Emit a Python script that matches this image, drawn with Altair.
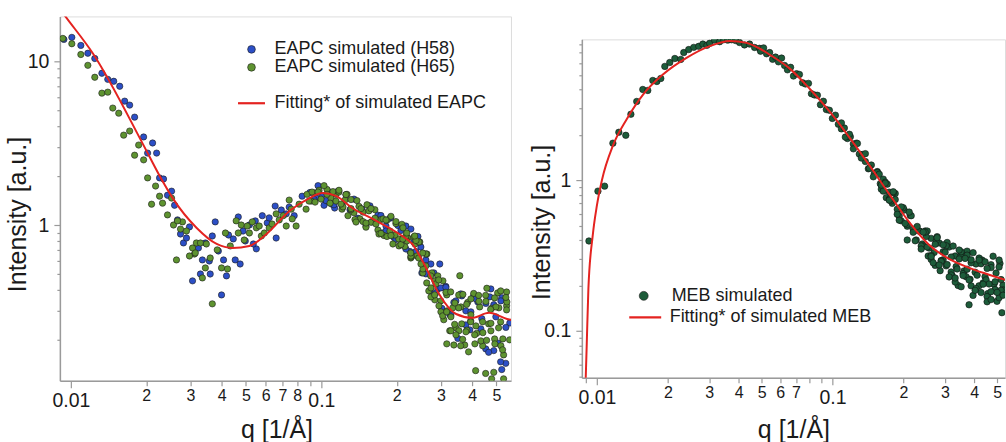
import json
import altair as alt
import pandas as pd

FONT = "Liberation Sans"
INK = "#1a1a1a"
AXIS = "#9a9a9a"

# ---------------- EAPC panel (left) ----------------
eapc_series = ["EAPC simulated (H58)", "EAPC simulated (H65)"]
eapc_fit_label = "Fitting* of simulated EAPC"
eapc_colors = ["#2c4fc6", "#5e9330"]

h58_low = [(0.00938, 13.6), (0.01009, 14.0), (0.01096, 12.5), (0.01169, 11.2), (0.01246, 10.4), (0.0133, 8.45),
           (0.01404, 7.76), (0.01483, 7.55), (0.01567, 7.04), (0.0164, 5.71), (0.01717, 5.40), (0.01797, 4.56),
           (0.01952, 3.45), (0.0212, 3.17), (0.02025, 2.75), (0.022, 2.75), (0.0226, 1.94), (0.02344, 1.91),
           (0.02431, 1.52), (0.02524, 1.61), (0.02594, 1.32), (0.02665, 1.075), (0.02975, 0.974), (0.0274, 0.881),
           (0.02815, 0.777), (0.02894, 0.833), (0.0323, 0.724), (0.03443, 0.777), (0.0335, 0.612), (0.0357, 0.603),
           (0.0377, 1.045), (0.0367, 0.857), (0.0388, 0.694), (0.0407, 0.612), (0.0418, 0.489), (0.0306, 0.456),
           (0.0329, 0.502), (0.0360, 0.502), (0.03995, 0.374), (0.0426, 0.869), (0.0445, 0.822), (0.0453, 0.612),
           (0.0474, 0.578), (0.0466, 1.12), (0.0487, 0.919), (0.0497, 0.799), (0.0516, 1.0), (0.0545, 1.06),
           (0.0550, 0.715), (0.0535, 0.766), (0.0581, 1.14), (0.0608, 1.03), (0.0619, 1.106), (0.0654, 1.306),
           (0.066, 0.833), (0.0692, 1.235), (0.0724, 1.17), (0.0744, 1.287), (0.0779, 1.14), (0.0838, 1.50),
           (0.0952, 1.46), (0.1025, 1.32), (0.1103, 1.34), (0.113, 1.27)]
h58_high = [(0.0901, 1.58), (0.0935, 1.43), (0.0970, 1.74), (0.1006, 1.52), (0.1044, 1.41), (0.1083, 1.59),
            (0.1123, 1.33), (0.1165, 1.61), (0.1209, 1.32), (0.1254, 1.53), (0.1301, 1.24), (0.1350, 1.44),
            (0.1400, 1.10), (0.1453, 1.25), (0.1507, 0.986), (0.1563, 1.31), (0.1622, 1.045), (0.1682, 1.15),
            (0.1745, 0.894), (0.1811, 0.986), (0.1878, 1.10), (0.1948, 0.839), (0.2021, 0.993), (0.2097, 0.81),
            (0.2175, 0.986), (0.2257, 0.689), (0.2341, 0.788), (0.2429, 0.851), (0.2519, 0.51), (0.2614, 0.612),
            (0.2711, 0.396), (0.2813, 0.51), (0.2918, 0.407), (0.3027, 0.310), (0.3140, 0.422), (0.3258, 0.283),
            (0.3380, 0.337), (0.3506, 0.203), (0.3637, 0.369), (0.3773, 0.299), (0.3914, 0.229), (0.4061, 0.372),
            (0.4213, 0.339), (0.4370, 0.268), (0.4534, 0.175), (0.4703, 0.364), (0.4879, 0.326), (0.5062, 0.190),
            (0.5251, 0.360), (0.5448, 0.143), (0.5651, 0.252),
            (0.5196, 0.146), (0.525, 0.131), (0.2970, 0.578), (0.4879, 0.171), (0.4655, 0.167)]
h58_high_b = [(0.1729, 1.143), (0.1810, 0.919), (0.1895, 1.111), (0.1984, 0.816), (0.2078, 0.926), (0.2175, 0.714),
              (0.2278, 0.945), (0.2385, 0.689), (0.2497, 0.734), (0.2614, 0.503), (0.2737, 0.578), (0.2866, 0.385),
              (0.3000, 0.413), (0.3141, 0.416), (0.3289, 0.2826), (0.3444, 0.344), (0.3606, 0.3796), (0.3775, 0.2455),
              (0.3953, 0.295), (0.4138, 0.354), (0.4333, 0.2322), (0.4537, 0.332), (0.4750, 0.407), (0.4973, 0.275),
              (0.5207, 0.344), (0.5452, 0.237)]

h65_low = [(0.00929, 13.8), (0.01009, 12.8), (0.01096, 11.0), (0.01169, 9.45), (0.01246, 7.99), (0.0133, 6.39),
           (0.01404, 6.48), (0.0147, 5.18), (0.01553, 4.82), (0.01625, 3.54), (0.01717, 3.75), (0.01797, 2.67),
           (0.01865, 3.08), (0.01952, 2.50), (0.02025, 1.94), (0.02179, 1.73), (0.0226, 1.50), (0.0210, 1.34),
           (0.02323, 1.36), (0.02431, 1.153), (0.02524, 1.46), (0.02569, 1.0), (0.0279, 1.045), (0.0274, 0.945),
           (0.02894, 0.919), (0.02665, 1.06), (0.0306, 0.724), (0.0317, 0.777), (0.03115, 0.665), (0.0329, 0.777),
           (0.03475, 0.766), (0.0264, 0.612), (0.02975, 0.647), (0.0314, 0.675), (0.03443, 0.547), (0.0360, 0.629),
           (0.0384, 0.705), (0.03995, 0.547), (0.0422, 0.539), (0.0335, 0.475), (0.0367, 0.330), (0.0414, 0.894),
           (0.0433, 0.745), (0.0457, 1.06), (0.0466, 0.894), (0.0479, 1.0), (0.0492, 0.81), (0.0506, 0.986),
           (0.0516, 0.894), (0.0530, 1.045), (0.0550, 0.961), (0.0565, 0.986), (0.0576, 0.857), (0.0592, 0.894),
           (0.0619, 0.961), (0.0636, 1.014), (0.066, 1.17), (0.0679, 1.075), (0.0704, 1.14), (0.0724, 0.986),
           (0.0758, 1.25), (0.0765, 1.09), (0.0793, 0.986), (0.0744, 1.42), (0.0815, 1.34), (0.0869, 1.25),
           (0.091, 1.40), (0.0935, 1.57), (0.0979, 1.63), (0.1053, 1.65), (0.1093, 1.46), (0.1144, 1.54),
           (0.0877, 1.54)]
h65_high_a = [(0.0893, 1.40), (0.0918, 1.59), (0.0944, 1.38), (0.0970, 1.59), (0.0997, 1.44), (0.1025, 1.74),
              (0.1053, 1.54), (0.1083, 1.36), (0.1113, 1.60), (0.1144, 1.40), (0.1176, 1.59), (0.1209, 1.25),
              (0.1242, 1.42), (0.1277, 1.14), (0.1313, 1.43), (0.1349, 1.19), (0.1387, 1.41), (0.1426, 1.09),
              (0.1466, 1.20), (0.1507, 0.97), (0.1548, 1.22), (0.1592, 1.045), (0.1636, 1.24), (0.1682, 0.932),
              (0.1729, 1.08), (0.1777, 0.863), (0.1827, 1.07), (0.1878, 0.919), (0.1930, 0.766), (0.1984, 1.02),
              (0.2037, 0.822), (0.2096, 1.01), (0.2154, 0.74), (0.2214, 0.833), (0.2276, 0.629), (0.2340, 0.845),
              (0.2405, 0.647), (0.2472, 0.788), (0.2541, 0.51), (0.2612, 0.562), (0.2685, 0.396), (0.2760, 0.51),
              (0.2837, 0.349), (0.2916, 0.489), (0.2997, 0.344), (0.3081, 0.264), (0.3167, 0.374), (0.3255, 0.226),
              (0.3346, 0.312), (0.3439, 0.236), (0.3535, 0.374), (0.3634, 0.249), (0.3735, 0.185), (0.3839, 0.337),
              (0.3946, 0.260), (0.4056, 0.382), (0.4169, 0.218), (0.4286, 0.316), (0.4405, 0.183), (0.4528, 0.372),
              (0.4655, 0.249), (0.4784, 0.310), (0.4918, 0.2015), (0.5055, 0.385), (0.5196, 0.256), (0.5341, 0.161),
              (0.5490, 0.321), (0.5643, 0.199)]
h65_high_b = [(0.1176, 1.63), (0.1220, 1.29), (0.1266, 1.54), (0.1313, 1.24), (0.1362, 1.08), (0.1413, 1.30),
              (0.1466, 1.05), (0.1521, 1.33), (0.1578, 1.04), (0.1637, 1.10), (0.1698, 0.881), (0.1762, 1.09),
              (0.1828, 0.851), (0.1896, 1.13), (0.1967, 0.869), (0.2041, 0.745), (0.2117, 0.961), (0.2196, 0.799),
              (0.2279, 0.638), (0.2364, 0.766), (0.2452, 0.788), (0.2544, 0.539), (0.2639, 0.665), (0.2738, 0.364),
              (0.2840, 0.456), (0.2947, 0.321), (0.3057, 0.456), (0.3171, 0.299), (0.3290, 0.226), (0.3413, 0.334),
              (0.3540, 0.226), (0.3673, 0.377), (0.3810, 0.228), (0.3953, 0.283), (0.4101, 0.188), (0.4254, 0.342),
              (0.4413, 0.220), (0.4578, 0.411), (0.4750, 0.251), (0.4927, 0.188), (0.5112, 0.312), (0.5303, 0.2015),
              (0.5501, 0.339),
              (0.3380, 0.185), (0.3600, 0.183), (0.413, 0.129), (0.4528, 0.124), (0.4784, 0.115), (0.534, 0.115),
              (0.4879, 0.126), (0.357, 0.49), (0.3167, 0.188), (0.387, 0.168), (0.549, 0.39), (0.52, 0.396)]
h65_high_c = [(0.1198, 1.343), (0.1254, 1.535), (0.1313, 1.26), (0.1375, 1.043), (0.1440, 1.26), (0.1507, 1.028),
              (0.1578, 1.26), (0.1652, 1.014), (0.1730, 0.888), (0.1811, 1.073), (0.1896, 0.863), (0.1985, 1.05),
              (0.2079, 0.760), (0.2176, 0.857), (0.2279, 0.647), (0.2386, 0.804), (0.2498, 0.578), (0.2615, 0.666),
              (0.2738, 0.413), (0.2867, 0.437), (0.3001, 0.295), (0.3142, 0.388), (0.3290, 0.275), (0.3445, 0.2135),
              (0.3607, 0.316), (0.3776, 0.2227), (0.3954, 0.354), (0.4139, 0.242), (0.4334, 0.196), (0.4537, 0.3416),
              (0.4751, 0.2258), (0.4974, 0.316), (0.5208, 0.183), (0.5452, 0.3613)]
h65_high_d = [(0.2113, 0.821), (0.2192, 0.894), (0.2274, 0.675), (0.2359, 0.857), (0.2447, 0.629), (0.2539, 0.675),
              (0.2634, 0.443), (0.2732, 0.489), (0.2834, 0.3743), (0.2940, 0.462), (0.3050, 0.2787), (0.3164, 0.2948),
              (0.3283, 0.3904), (0.3405, 0.2473), (0.3533, 0.3118), (0.3665, 0.2003), (0.3802, 0.3275), (0.3944, 0.2562),
              (0.4092, 0.2135), (0.4245, 0.3717), (0.4403, 0.2562), (0.4568, 0.1976), (0.4739, 0.3053), (0.4916, 0.3587),
              (0.5100, 0.2355), (0.5291, 0.1729), (0.5489, 0.3031)]

eapc_fit = [(0.0088, 22.1), (0.00951, 18.8), (0.01223, 11.2), (0.0194, 3.12), (0.0226, 2.0), (0.0255, 1.46),
            (0.0318, 0.959), (0.0382, 0.766), (0.0442, 0.724), (0.0516, 0.745), (0.0604, 0.881), (0.0746, 1.217),
            (0.0896, 1.46), (0.1009, 1.57), (0.1148, 1.50), (0.133, 1.27), (0.1657, 1.06), (0.2046, 0.881),
            (0.2306, 0.766), (0.262, 0.547), (0.295, 0.379), (0.345, 0.286), (0.400, 0.271), (0.467, 0.291),
            (0.551, 0.267), (0.58, 0.262)]

# ---------------- MEB panel (right) ----------------
meb_label = "MEB simulated"
meb_fit_label = "Fitting* of simulated MEB"
meb_color = "#1d5c3a"

meb_low = [(0.00925, 0.395), (0.0101, 0.846), (0.01078, 0.913), (0.01169, 1.76), (0.01239, 2.08), (0.01326, 1.985),
           (0.01394, 2.74), (0.01476, 3.33), (0.01566, 4.0), (0.01644, 3.94), (0.01727, 4.59), (0.01796, 4.52),
           (0.01867, 4.73), (0.01942, 5.69), (0.02038, 6.04), (0.02142, 6.42), (0.02269, 6.33), (0.02337, 7.03),
           (0.02453, 7.36), (0.02577, 7.61), (0.02706, 7.73), (0.02816, 8.0), (0.0293, 7.85), (0.03011, 8.1),
           (0.0316, 8.5), (0.03319, 8.3), (0.0345, 8.55), (0.0359, 8.5), (0.0373, 8.55), (0.0388, 8.45),
           (0.0403, 8.2), (0.0423, 7.9), (0.04447, 8.0), (0.0467, 7.6), (0.0490, 7.5)]
meb_mid = [(0.0495, 7.18), (0.0510, 7.55), (0.0525, 6.90), (0.0541, 7.03), (0.0557, 6.34), (0.0573, 6.56),
           (0.0590, 6.10), (0.0608, 6.46), (0.0626, 5.77), (0.0644, 5.40), (0.0664, 5.61), (0.0683, 4.91),
           (0.0704, 5.09), (0.0724, 5.03), (0.0746, 4.43), (0.0768, 4.35), (0.0791, 4.39), (0.0814, 3.75),
           (0.0838, 3.68), (0.0863, 3.66), (0.0889, 3.17), (0.0915, 3.34), (0.0942, 2.94), (0.0970, 2.91),
           (0.0999, 2.57), (0.1029, 2.70), (0.1059, 2.35), (0.1091, 2.19), (0.1123, 2.22), (0.1157, 1.89),
           (0.1191, 1.94), (0.1226, 1.74), (0.1263, 1.76), (0.1300, 1.49), (0.1339, 1.48), (0.1379, 1.33),
           (0.1420, 1.19), (0.1462, 1.26), (0.1505, 1.11), (0.1550, 1.14), (0.1596, 0.948), (0.1643, 1.016),
           (0.1692, 0.766), (0.1742, 0.833), (0.1794, 0.702), (0.1847, 0.816), (0.1902, 0.637), (0.1959, 0.537),
           (0.2017, 0.633), (0.2077, 0.495), (0.2138, 0.584), (0.2202, 0.473), (0.2267, 0.401), (0.2334, 0.46),
           (0.2404, 0.377), (0.2475, 0.46), (0.2548, 0.314), (0.2624, 0.411), (0.2702, 0.331), (0.2782, 0.422),
           (0.2864, 0.251), (0.2949, 0.335), (0.3037, 0.27), (0.3127, 0.36), (0.3220, 0.233), (0.3315, 0.314),
           (0.3414, 0.20), (0.3515, 0.32), (0.3619, 0.25), (0.3727, 0.338), (0.3837, 0.22), (0.3951, 0.172),
           (0.4068, 0.278), (0.4189, 0.199), (0.4314, 0.295), (0.4442, 0.229), (0.4573, 0.177), (0.4709, 0.275),
           (0.4849, 0.204), (0.4993, 0.157), (0.5141, 0.28), (0.5294, 0.201)]
meb_band = [(0.1091, 2.40), (0.1134, 1.932), (0.1180, 2.017), (0.1227, 1.614), (0.1276, 1.753), (0.1326, 1.403),
            (0.1379, 1.50), (0.1434, 1.20), (0.1491, 1.053), (0.1550, 1.126), (0.1612, 0.872), (0.1676, 0.970),
            (0.1743, 0.749), (0.1812, 0.825), (0.1884, 0.641)]
meb_high = [(0.1580, 1.095), (0.1643, 0.846), (0.1708, 0.941), (0.1776, 0.728), (0.1847, 0.744), (0.1920, 0.578),
            (0.1997, 0.657), (0.2076, 0.509), (0.2159, 0.581), (0.2245, 0.396), (0.2334, 0.46), (0.2427, 0.366),
            (0.2524, 0.46), (0.2624, 0.317), (0.2729, 0.272), (0.2837, 0.383), (0.2950, 0.296), (0.3068, 0.386),
            (0.3190, 0.246), (0.3317, 0.211), (0.3449, 0.30), (0.3586, 0.24), (0.3729, 0.318), (0.3877, 0.199),
            (0.4032, 0.245), (0.4192, 0.304), (0.4359, 0.208), (0.4533, 0.169), (0.4713, 0.263), (0.4901, 0.188),
            (0.5096, 0.295), (0.5299, 0.187),
            (0.2380, 0.366), (0.2499, 0.423), (0.2624, 0.298), (0.2755, 0.395), (0.2893, 0.293), (0.3038, 0.367),
            (0.3189, 0.235), (0.3349, 0.267), (0.3516, 0.335), (0.3692, 0.229), (0.3877, 0.283), (0.4071, 0.191),
            (0.4274, 0.279), (0.4488, 0.218), (0.4712, 0.182), (0.4948, 0.242), (0.5195, 0.186),
            (0.38, 0.149), (0.4533, 0.156), (0.524, 0.132), (0.5096, 0.166), (0.2076, 0.401), (0.192, 0.543)]
meb_high_b = [(0.1611, 0.927), (0.1675, 0.955), (0.1742, 0.737), (0.1811, 0.838), (0.1883, 0.594), (0.1958, 0.665),
              (0.2036, 0.516), (0.2117, 0.614), (0.2201, 0.451), (0.2289, 0.493), (0.2380, 0.349), (0.2475, 0.452),
              (0.2573, 0.3545), (0.2676, 0.283), (0.2782, 0.4155), (0.2893, 0.289), (0.3008, 0.3325), (0.3128, 0.228),
              (0.3253, 0.3655), (0.3382, 0.2574), (0.3517, 0.1962), (0.3657, 0.3026), (0.3802, 0.2176), (0.3954, 0.3305),
              (0.4111, 0.2342), (0.4275, 0.1796), (0.4445, 0.2872), (0.4622, 0.2047), (0.4806, 0.313), (0.4998, 0.180),
              (0.5196, 0.219)]
meb_high_c = [(0.2427, 0.452), (0.2524, 0.36), (0.2624, 0.312), (0.2729, 0.3757), (0.2837, 0.2736), (0.2950, 0.3723),
              (0.3068, 0.2753), (0.3190, 0.309), (0.3317, 0.2244), (0.3449, 0.3439), (0.3586, 0.2327), (0.3729, 0.2566),
              (0.3877, 0.2961), (0.4032, 0.1857), (0.4192, 0.2952), (0.4359, 0.2041), (0.4533, 0.2598), (0.4713, 0.1614),
              (0.4901, 0.2117), (0.5096, 0.2653), (0.5299, 0.1724)]

meb_fit = [(0.00893, 0.040), (0.00905, 0.080), (0.0092, 0.19), (0.0096, 0.43), (0.0100, 0.68), (0.0105, 1.0),
           (0.0117, 1.7), (0.0134, 2.55), (0.0157, 3.7), (0.019, 5.0), (0.0241, 6.5), (0.0301, 7.75), (0.0366, 8.4),
           (0.0432, 8.15), (0.04903, 7.48), (0.05405, 6.82), (0.06569, 5.52), (0.07984, 4.06), (0.0970, 2.87),
           (0.1179, 1.925), (0.1433, 1.258), (0.1742, 0.808), (0.2117, 0.527), (0.2573, 0.372), (0.3127, 0.30),
           (0.38, 0.262), (0.4619, 0.236), (0.54, 0.218), (0.56, 0.214)]

# ---------------- axes tick values / labels ----------------
left_x_ticks = [0.01, 0.02, 0.03, 0.04, 0.05, 0.06, 0.07, 0.08, 0.09, 0.1, 0.2, 0.3, 0.4, 0.5]
left_x_labels = ["0.01", "2", "3", "4", "5", "6", "7", "8", "", "0.1", "2", "3", "4", "5"]
right_x_ticks = [0.009, 0.01, 0.02, 0.03, 0.04, 0.05, 0.06, 0.07, 0.08, 0.09, 0.1, 0.2, 0.3, 0.4, 0.5]
right_x_labels = ["", "0.01", "2", "3", "4", "5", "6", "7", "", "", "0.1", "2", "3", "4", "5"]
x_decades = [0.01, 0.1]

left_y_ticks = [0.2, 0.3, 0.4, 0.5, 0.6, 0.7, 0.8, 0.9, 1, 2, 3, 4, 5, 6, 7, 8, 9, 10]
left_y_labels = ["", "", "", "", "", "", "", "", "1", "", "", "", "", "", "", "", "", "10"]
left_y_decades = [1, 10]
right_y_ticks = [0.05, 0.06, 0.07, 0.08, 0.09, 0.1, 0.2, 0.3, 0.4, 0.5, 0.6, 0.7, 0.8, 0.9, 1, 2, 3, 4, 5, 6, 7, 8]
right_y_labels = ["", "", "", "", "", "0.1", "", "", "", "", "", "", "", "", "1", "", "", "", "", "", "", ""]
right_y_decades = [0.1, 1]


def decade_test(decades):
    return " || ".join(f"datum.value == {d}" for d in decades)


def label_expr(ticks, labels):
    return f"{json.dumps(labels)}[indexof({json.dumps(ticks)}, datum.value)]"


def x_axis(ticks, labels, title_x, title_y):
    t = decade_test(x_decades)
    return alt.Axis(
        values=ticks, labelExpr=label_expr(ticks, labels), labelOverlap=False, labelFlush=False,
        labelFont=FONT, labelColor=INK,
        labelFontSize={"condition": {"test": t, "value": 19.5}, "value": 16},
        labelPadding={"condition": {"test": t, "value": 4}, "value": 2},
        tickSize={"condition": {"test": t, "value": 7}, "value": 5},
        tickColor=AXIS, tickWidth=1.2, domainColor=AXIS, domainWidth=1.5, grid=False,
        title="q [1/Å]", titleFont=FONT, titleFontSize=25, titleFontWeight="normal", titleColor=INK,
        titleX=title_x, titleY=title_y, titleAlign="center", titleBaseline="alphabetic", titleAngle=0,
    )


def y_axis(ticks, labels, decades, title_x, title_y):
    t = decade_test(decades)
    return alt.Axis(
        values=ticks, labelExpr=label_expr(ticks, labels), labelOverlap=False, labelFlush=False,
        labelFont=FONT, labelColor=INK, labelFontSize=19.5, labelPadding=5,
        tickSize={"condition": {"test": t, "value": 6}, "value": 3},
        tickColor=AXIS, tickWidth=1.2, domainColor=AXIS, domainWidth=1.5, grid=False,
        title="Intensity [a.u.]", titleFont=FONT, titleFontSize=25, titleFontWeight="normal", titleColor=INK,
        titleX=title_x, titleY=title_y, titleAlign="center", titleBaseline="middle", titleAngle=270,
    )


def legend(x, y, offset, size, stype, stroke_w, row_pad=-3):
    return alt.Legend(
        title=None, orient="none", legendX=x, legendY=y, padding=0, rowPadding=row_pad,
        labelFont=FONT, labelFontSize=18, labelColor=INK, labelOffset=offset, labelLimit=400,
        symbolType=stype, symbolSize=size, symbolStrokeColor="#1a1a1a", symbolStrokeWidth=stroke_w,
        symbolOpacity=1,
    )


def frame(points, series):
    return pd.DataFrame({"q": [p[0] for p in points], "I": [p[1] for p in points], "series": series})


# ---------------- left chart ----------------
eapc_pts = pd.concat([frame(h58_low + h58_high + h58_high_b, eapc_series[0]),
                      frame(h65_low + h65_high_a + h65_high_b + h65_high_c + h65_high_d, eapc_series[1])],
                     ignore_index=True)
eapc_line = frame(eapc_fit, eapc_fit_label)

lx = alt.Scale(type="log", domain=[0.00904, 0.5715], nice=False)
ly = alt.Scale(type="log", domain=[0.112, 18.8], nice=False)
lxa = x_axis(left_x_ticks, left_x_labels, 217, 57)
lya = y_axis(left_y_ticks, left_y_labels, left_y_decades, -42, 198)

left_points = alt.Chart(eapc_pts).mark_circle(size=40, stroke="#1c1c1c", strokeWidth=0.6, opacity=1, clip=True).encode(
    x=alt.X("q:Q", scale=lx, axis=lxa),
    y=alt.Y("I:Q", scale=ly, axis=lya),
    fill=alt.Fill("series:N", scale=alt.Scale(domain=eapc_series, range=eapc_colors),
                  legend=legend(183, 24, 14, 60, "circle", 0.6)),
)
left_fit = alt.Chart(eapc_line).mark_line(strokeWidth=2, interpolate="monotone", clip=True).encode(
    x=alt.X("q:Q", scale=lx, axis=lxa),
    y=alt.Y("I:Q", scale=ly, axis=lya),
    stroke=alt.Stroke("series:N", scale=alt.Scale(domain=[eapc_fit_label], range=["#e42320"]),
                      legend=legend(177, 72, 8, 729, "stroke", 2.2)),
)
left = alt.layer(left_points, left_fit).properties(width=452, height=365)

# ---------------- right chart ----------------
meb_pts = frame(meb_low + meb_mid + meb_band + meb_high + meb_high_b + meb_high_c, meb_label)
meb_line = frame(meb_fit, meb_fit_label)

rx = alt.Scale(type="log", domain=[0.00863, 0.54], nice=False)
ry = alt.Scale(type="log", domain=[0.0489, 8.6], nice=False)
rxa = x_axis(right_x_ticks, right_x_labels, 212, 60)
rya = y_axis(right_y_ticks, right_y_labels, right_y_decades, -40, 183)

# legend positions here are relative to the right column (spacer top-left)
right_points = alt.Chart(meb_pts).mark_circle(size=42, stroke="#111111", strokeWidth=0.6, opacity=1, clip=True).encode(
    x=alt.X("q:Q", scale=rx, axis=rxa),
    y=alt.Y("I:Q", scale=ry, axis=rya),
    fill=alt.Fill("series:N", scale=alt.Scale(domain=[meb_label], range=[meb_color]),
                  legend=legend(53, 271, 19, 80, "circle", 0.6)),
)
right_fit = alt.Chart(meb_line).mark_line(strokeWidth=2, interpolate="monotone", clip=True).encode(
    x=alt.X("q:Q", scale=rx, axis=rxa),
    y=alt.Y("I:Q", scale=ry, axis=rya),
    stroke=alt.Stroke("series:N", scale=alt.Scale(domain=[meb_fit_label], range=["#e42320"]),
                      legend=legend(46, 284, 7, 1024, "stroke", 2.2)),
)
right = alt.layer(right_points, right_fit).properties(width=424, height=339)

# invisible spacer that pushes the right panel down
spacer = alt.Chart(pd.DataFrame({"s": [0]})).mark_point(opacity=0).properties(width=424, height=4)
right_col = alt.vconcat(spacer, right, spacing=12)

chart = alt.hconcat(left, right_col, spacing=17).resolve_scale(
    x="independent", y="independent", fill="independent", stroke="independent"
).resolve_legend(fill="independent", stroke="independent").properties(
    padding={"left": 5, "top": 15, "right": 0, "bottom": 0}, background="white"
).configure_view(stroke=None).configure(font=FONT)

chart.save("out.html", embed_options={"renderer": "svg", "actions": False})
